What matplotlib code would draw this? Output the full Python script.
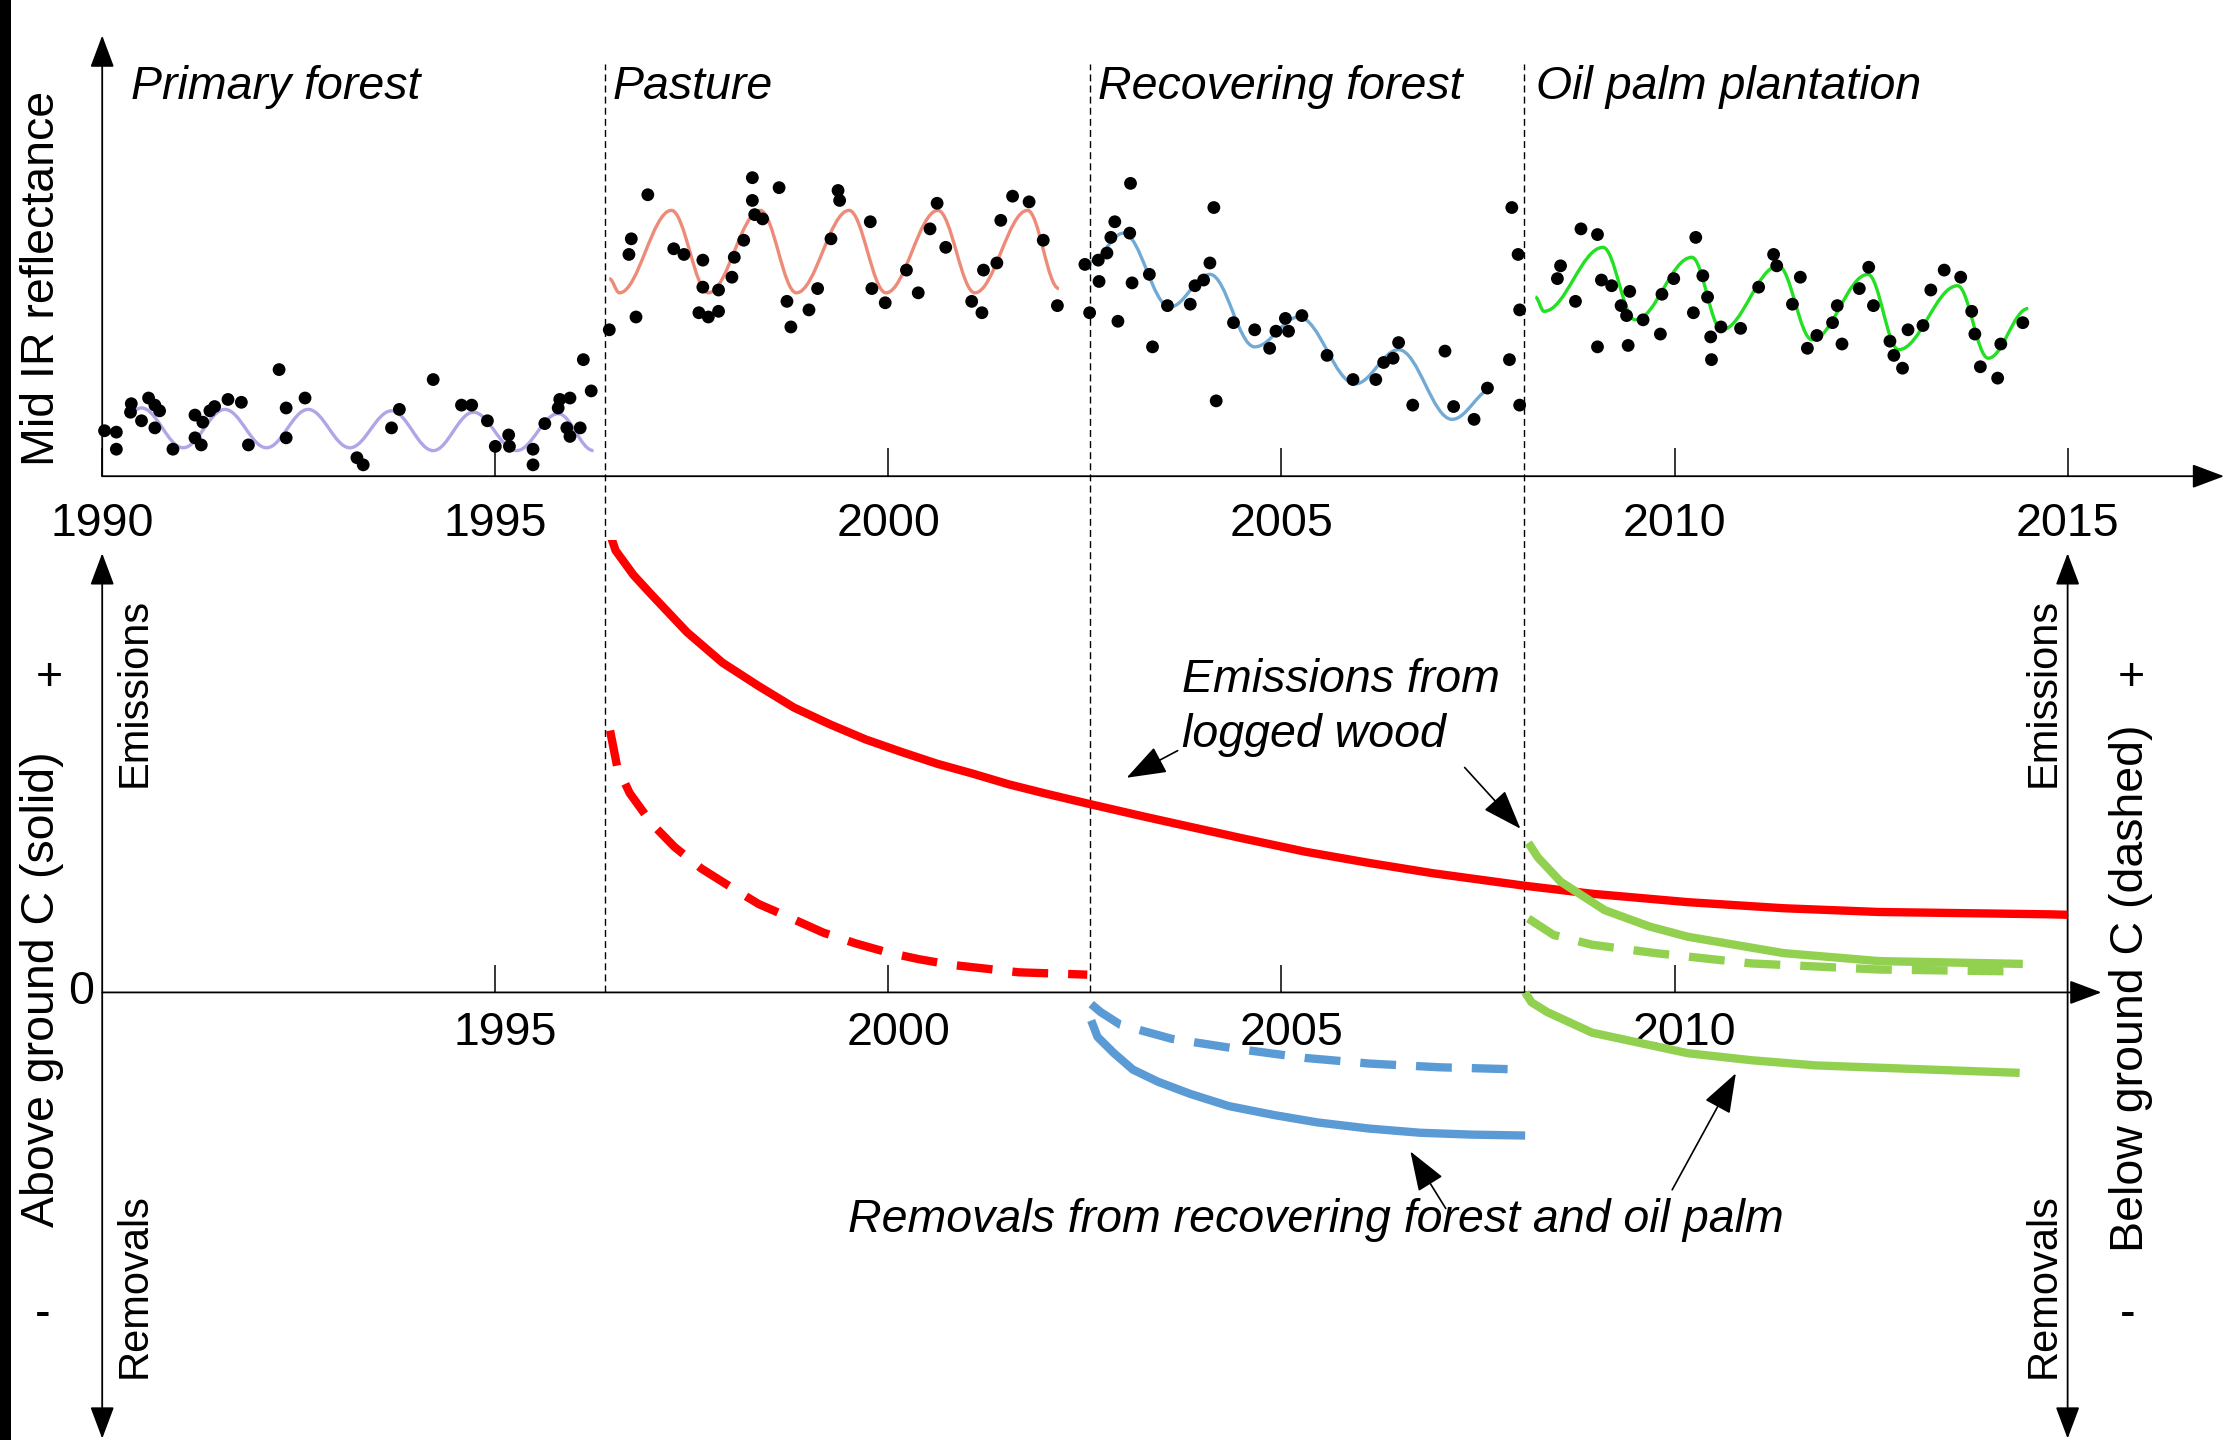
"""Land-use trajectory: Mid IR reflectance (top) and carbon fluxes (bottom)."""
import matplotlib
matplotlib.use('Agg')
import matplotlib.pyplot as plt
from matplotlib.path import Path
from matplotlib.patches import PathPatch, Rectangle
from matplotlib.transforms import ScaledTranslation

plt.rcParams['font.family'] = ['Liberation Sans', 'DejaVu Sans']

# ---------------- data ----------------
stage_names = ['Primary forest', 'Pasture', 'Recovering forest', 'Oil palm plantation']
stage_starts = [1990.0, 1996.40, 2002.56, 2008.09]
top_years = [1990, 1995, 2000, 2005, 2010, 2015]
bottom_years = [1995, 2000, 2005, 2010]

# Mid IR reflectance observations (arbitrary units)
primary_t = [1990.03, 1990.18, 1990.18, 1990.37, 1990.36, 1990.50, 1990.59, 1990.67, 1990.73, 1990.67,
             1990.90, 1991.18, 1991.18, 1991.26, 1991.28, 1991.37, 1991.43, 1991.60, 1991.77, 1991.86,
             1992.25, 1992.34, 1992.34, 1992.58, 1993.24, 1993.32, 1993.68, 1993.78, 1994.21, 1994.57,
             1994.70, 1994.90, 1995.00, 1995.17, 1995.18, 1995.48, 1995.48, 1995.63, 1995.82, 1995.95,
             1995.80, 1995.91, 1995.95, 1996.08, 1996.12, 1996.22]
primary_r = [0.32, 0.31, 0.19, 0.51, 0.45, 0.39, 0.55, 0.50, 0.46, 0.34,
             0.19, 0.43, 0.27, 0.22, 0.38, 0.46, 0.49, 0.54, 0.52, 0.22,
             0.75, 0.48, 0.27, 0.55, 0.13, 0.08, 0.34, 0.47, 0.68, 0.50,
             0.50, 0.39, 0.21, 0.29, 0.21, 0.19, 0.08, 0.37, 0.54, 0.55,
             0.48, 0.34, 0.28, 0.34, 0.82, 0.60]

pasture_t = [1996.45, 1996.70, 1996.73, 1996.79, 1996.94, 1997.27, 1997.40, 1997.64, 1997.64, 1997.59,
             1997.71, 1997.84, 1997.84, 1998.01, 1998.04, 1998.16, 1998.27, 1998.27, 1998.30, 1998.40,
             1998.61, 1998.71, 1998.76, 1998.99, 1999.10, 1999.27, 1999.36, 1999.38, 1999.77, 1999.79,
             1999.96, 2000.23, 2000.38, 2000.53, 2000.62, 2000.73, 2001.06, 2001.19, 2001.21, 2001.38,
             2001.43, 2001.58, 2001.79, 2001.97, 2002.15]
pasture_r = [1.03, 1.56, 1.67, 1.12, 1.98, 1.60, 1.56, 1.52, 1.33, 1.15,
             1.12, 1.16, 1.31, 1.40, 1.54, 1.66, 2.10, 1.94, 1.84, 1.81,
             2.03, 1.23, 1.05, 1.17, 1.32, 1.67, 2.01, 1.94, 1.79, 1.32,
             1.22, 1.45, 1.29, 1.74, 1.92, 1.61, 1.23, 1.15, 1.45, 1.50,
             1.80, 1.97, 1.93, 1.66, 1.20]

recov_t = [2002.50, 2002.67, 2002.68, 2002.56, 2002.78, 2002.83, 2002.88, 2003.08, 2003.07, 2003.10,
           2002.92, 2003.32, 2003.36, 2003.55, 2003.84, 2003.90, 2004.01, 2004.09, 2004.14, 2004.17,
           2004.39, 2004.66, 2004.85, 2004.93, 2005.05, 2005.09, 2005.26, 2005.58, 2005.91, 2006.20,
           2006.30, 2006.42, 2006.49, 2006.67, 2007.08, 2007.19, 2007.45, 2007.62, 2007.90, 2007.93,
           2008.01, 2008.03, 2008.03]
recov_r = [1.49, 1.52, 1.37, 1.15, 1.57, 1.68, 1.79, 2.06, 1.71, 1.36,
           1.09, 1.42, 0.91, 1.20, 1.21, 1.34, 1.38, 1.50, 1.89, 0.53,
           1.08, 1.03, 0.90, 1.02, 1.11, 1.02, 1.13, 0.85, 0.68, 0.68,
           0.80, 0.83, 0.94, 0.50, 0.88, 0.49, 0.40, 0.62, 0.82, 1.89,
           1.56, 1.17, 0.50]

palm_t = [2008.55, 2008.51, 2008.81, 2009.02, 2008.74, 2009.07, 2009.20, 2009.02, 2009.41, 2009.43,
          2009.32, 2009.39, 2009.60, 2009.82, 2009.84, 2009.99, 2010.27, 2010.24, 2010.36, 2010.42,
          2010.46, 2010.47, 2010.59, 2010.84, 2011.07, 2011.26, 2011.30, 2011.60, 2011.50, 2011.69,
          2011.81, 2012.01, 2012.07, 2012.13, 2012.35, 2012.47, 2012.53, 2012.74, 2012.79, 2012.90,
          2012.97, 2013.16, 2013.26, 2013.43, 2013.64, 2013.78, 2013.82, 2013.89, 2014.11, 2014.15,
          2014.43]
palm_r = [1.48, 1.39, 1.74, 1.70, 1.23, 1.38, 1.34, 0.91, 0.92, 1.30,
          1.20, 1.13, 1.10, 1.00, 1.28, 1.39, 1.68, 1.15, 1.41, 1.26,
          0.98, 0.82, 1.05, 1.04, 1.33, 1.56, 1.48, 1.40, 1.21, 0.90,
          0.99, 1.08, 1.20, 0.93, 1.32, 1.47, 1.20, 0.95, 0.85, 0.76,
          1.03, 1.06, 1.31, 1.45, 1.40, 1.16, 1.00, 0.77, 0.69, 0.93,
          1.08]

# seasonal fits: turning points (peaks / troughs) of each fitted curve
primary_fit_t = [1990.30, 1990.50, 1991.03, 1991.56, 1992.09, 1992.62, 1993.15, 1993.68, 1994.21,
                 1994.72, 1995.27, 1995.80, 1996.25]
primary_fit_r = [0.43, 0.48, 0.20, 0.47, 0.20, 0.47, 0.20, 0.46, 0.18, 0.45, 0.18, 0.44, 0.18]
pasture_fit_t = [1996.45, 1996.58, 1997.24, 1997.71, 1998.37, 1998.83, 1999.50, 1999.97, 2000.63,
                 2001.10, 2001.77, 2002.17]
pasture_fit_r = [1.39, 1.29, 1.87, 1.29, 1.87, 1.29, 1.87, 1.29, 1.87, 1.29, 1.87, 1.32]
recov_fit_t = [2002.57, 2002.99, 2003.58, 2004.09, 2004.66, 2005.22, 2005.94, 2006.49, 2007.17, 2007.70]
recov_fit_r = [1.51, 1.71, 1.19, 1.42, 0.91, 1.12, 0.65, 0.89, 0.40, 0.62]
palm_fit_t = [2008.23, 2008.34, 2009.09, 2009.50, 2010.22, 2010.60, 2011.32, 2011.75, 2012.46,
              2012.85, 2013.60, 2013.99, 2014.50]
palm_fit_r = [1.26, 1.16, 1.61, 1.10, 1.54, 1.03, 1.48, 0.96, 1.42, 0.89, 1.34, 0.83, 1.18]

# carbon fluxes (relative units), + emissions / - removals
red_solid_t = [1996.42, 1996.53, 1996.76, 1996.99, 1997.44, 1997.89, 1998.35, 1998.80, 1999.26, 1999.71,
               2000.17, 2000.62, 2001.07, 2001.53, 2001.98, 2002.53, 2003.20, 2003.68, 2004.49, 2005.30,
               2006.11, 2006.92, 2008.10, 2008.95, 2010.17, 2011.39, 2012.60, 2014.78, 2015.00]
red_solid_c = [1.00, 0.945, 0.892, 0.850, 0.770, 0.705, 0.655, 0.609, 0.573, 0.541,
               0.514, 0.489, 0.468, 0.445, 0.426, 0.404, 0.378, 0.360, 0.330, 0.301,
               0.277, 0.255, 0.228, 0.211, 0.193, 0.180, 0.172, 0.167, 0.166]
red_dash_t = [1996.46, 1996.55, 1996.71, 1996.99, 1997.28, 1997.62, 1997.98, 1998.35, 1998.76, 1999.17,
              1999.58, 1999.98, 2000.39, 2000.80, 2001.66, 2002.53]
red_dash_c = [0.560, 0.483, 0.426, 0.361, 0.311, 0.265, 0.227, 0.189, 0.159, 0.128,
              0.105, 0.086, 0.071, 0.059, 0.043, 0.038]
blue_solid_t = [2002.58, 2002.66, 2002.87, 2003.11, 2003.43, 2003.84, 2004.33, 2004.90, 2005.46, 2006.11,
                2006.76, 2007.41, 2008.10]
blue_solid_c = [-0.060, -0.095, -0.130, -0.165, -0.191, -0.217, -0.243, -0.262, -0.278, -0.291,
                -0.300, -0.304, -0.306]
blue_dash_t = [2002.58, 2002.70, 2002.95, 2003.60, 2004.45, 2005.30, 2006.11, 2007.00, 2008.10]
blue_dash_c = [-0.025, -0.042, -0.069, -0.099, -0.121, -0.140, -0.152, -0.160, -0.165]
green_solid_t = [2008.14, 2008.26, 2008.55, 2009.11, 2009.68, 2010.17, 2011.39, 2012.60, 2014.43]
green_solid_c = [0.320, 0.289, 0.237, 0.176, 0.141, 0.119, 0.084, 0.067, 0.061]
green_dash_t = [2008.14, 2008.46, 2008.95, 2009.76, 2010.98, 2012.60, 2014.31]
green_dash_c = [0.158, 0.123, 0.102, 0.084, 0.062, 0.049, 0.045]
green_rem_t = [2008.10, 2008.18, 2008.38, 2008.95, 2010.17, 2010.98, 2011.79, 2014.39]
green_rem_c = [0.0, -0.021, -0.042, -0.086, -0.130, -0.145, -0.156, -0.172]

# ---------------- figure ----------------
FS = 33.5
BLACK = 'black'

fig = plt.figure(figsize=(22.28, 14.40), dpi=100)
fig.patch.set_facecolor('white')
fig.add_artist(Rectangle((0, 0), 11 / 2228, 1, transform=fig.transFigure,
                         facecolor='black', edgecolor='none'))

split = 633 / 1013
ax_bot = fig.add_axes([0, 0, 1, split])
ax_top = fig.add_axes([0, split, 1, 1 - split])
for ax in (ax_top, ax_bot):
    ax.set_xlim(1988.70, 2017.04)
    ax.patch.set_visible(False)
    for s in ax.spines.values():
        s.set_visible(False)
    ax.spines['bottom'].set_position(('data', 0))
    ax.tick_params(axis='y', left=False, labelleft=False)
    ax.tick_params(axis='x', direction='in', width=1.1, labelsize=FS, top=False)
ax_top.set_ylim(-0.45, 3.35)
ax_bot.set_ylim(-0.957, 0.967)

ax_top.set_xticks(top_years)
ax_top.set_xticklabels([str(y) for y in top_years])
ax_top.tick_params(axis='x', length=20, pad=18.4)
ax_bot.set_xticks(bottom_years)
ax_bot.set_xticklabels([str(y) for y in bottom_years])
ax_bot.tick_params(axis='x', length=19.5, pad=13.3)
shift = ScaledTranslation(0.10, 0, fig.dpi_scale_trans)
for lab in ax_bot.get_xticklabels():
    lab.set_transform(lab.get_transform() + shift)


def axis_arrow(ax, start, end, style='-|>'):
    ax.annotate('', xy=end, xytext=start,
                arrowprops=dict(arrowstyle=f'{style},head_length=2.0,head_width=0.75',
                                mutation_scale=10, lw=1.3, color=BLACK,
                                shrinkA=0, shrinkB=0))


# axes drawn as arrows
axis_arrow(ax_top, (1990, 0), (1990, 3.10))
axis_arrow(ax_top, (1990, 0), (2016.99, 0))
axis_arrow(ax_bot, (1990, 0), (2015.43, 0))
axis_arrow(ax_bot, (1990, -0.954), (1990, 0.939), '<|-|>')
axis_arrow(ax_bot, (2015, -0.954), (2015, 0.939), '<|-|>')

# land-use transitions
for t0 in stage_starts[1:]:
    ax_bot.plot([t0, t0], [0, 1.985], color=BLACK, lw=1.0, dashes=(5, 3),
                clip_on=False, zorder=1)

label_x = [1990.36, 1996.49, 2002.67, 2008.24]
for name, lx in zip(stage_names, label_x):
    ax_top.text(lx, 2.74, name, style='italic', fontsize=FS, ha='left', va='center')


def turning_point_path(ts, vs, k=0.3634):
    verts = [(ts[0], vs[0])]
    codes = [Path.MOVETO]
    for t0, v0, t1, v1 in zip(ts[:-1], vs[:-1], ts[1:], vs[1:]):
        dt = t1 - t0
        verts += [(t0 + k * dt, v0), (t1 - k * dt, v1), (t1, v1)]
        codes += [Path.CURVE4] * 3
    return Path(verts, codes)


fits = [(primary_fit_t, primary_fit_r, '#aea6e6'),
        (pasture_fit_t, pasture_fit_r, '#ee8a78'),
        (recov_fit_t, recov_fit_r, '#72aad6'),
        (palm_fit_t, palm_fit_r, '#22e022')]
for ft, fr, col in fits:
    ax_top.add_patch(PathPatch(turning_point_path(ft, fr), facecolor='none',
                               edgecolor=col, lw=2.4, zorder=2))

for st, sr in [(primary_t, primary_r), (pasture_t, pasture_r),
               (recov_t, recov_r), (palm_t, palm_r)]:
    ax_top.scatter(st, sr, s=85, color=BLACK, edgecolors='none', zorder=3)

ax_top.text(1989.24, 1.39, 'Mid IR reflectance', rotation=90, fontsize=FS,
            ha='center', va='center')

# carbon flux curves
RED, BLUE, GREEN = '#ff0000', '#5b9bd5', '#92d050'
LW = 6
dash = (4.3, 2.4)
solid_kw = dict(lw=LW, solid_capstyle='butt', solid_joinstyle='round', zorder=3)
dash_kw = dict(lw=LW, dashes=dash, dash_capstyle='butt', dash_joinstyle='round', zorder=3)
ax_bot.plot(red_solid_t, red_solid_c, color=RED, **solid_kw)
ax_bot.plot(red_dash_t, red_dash_c, color=RED, **dash_kw)
ax_bot.plot(blue_solid_t, blue_solid_c, color=BLUE, **solid_kw)
ax_bot.plot(blue_dash_t, blue_dash_c, color=BLUE, **dash_kw)
ax_bot.plot(green_solid_t, green_solid_c, color=GREEN, **solid_kw)
ax_bot.plot(green_dash_t, green_dash_c, color=GREEN, **dash_kw)
ax_bot.plot(green_rem_t, green_rem_c, color=GREEN, **solid_kw)

# side labels
ax_bot.text(1989.24, 0.006, 'Above ground C (solid)', rotation=90, fontsize=FS,
            ha='center', va='center')
ax_bot.text(2015.81, 0.01, 'Below ground C (dashed)', rotation=90, fontsize=FS,
            ha='center', va='center')
for x in (1990.41, 2014.69):
    ax_bot.text(x, 0.641, 'Emissions', rotation=90, fontsize=30, ha='center', va='center')
    ax_bot.text(x, -0.626, 'Removals', rotation=90, fontsize=30, ha='center', va='center')
ax_bot.text(1989.33, 0.672, '+', fontsize=FS, ha='center', va='center')
ax_bot.text(2015.81, 0.672, '+', fontsize=FS, ha='center', va='center')
ax_bot.text(1989.24, -0.690, '-', fontsize=FS, ha='center', va='center')
ax_bot.text(2015.76, -0.690, '-', fontsize=FS, ha='center', va='center')
ax_bot.text(1989.73, 0.0, '0', fontsize=FS, ha='center', va='center')

# callouts
ax_bot.text(2003.74, 0.669, 'Emissions from', style='italic', fontsize=FS, ha='left', va='center')
ax_bot.text(2003.74, 0.550, 'logged wood', style='italic', fontsize=FS, ha='left', va='center')
ax_bot.text(2005.44, -0.486, 'Removals from recovering forest and oil palm', style='italic',
            fontsize=FS, ha='center', va='center')
callouts = [((2003.68, 0.517), (2003.03, 0.459)),
            ((2007.33, 0.481), (2008.04, 0.350)),
            ((2007.09, -0.462), (2006.64, -0.340)),
            ((2009.97, -0.422), (2010.78, -0.173))]
for tail, tip in callouts:
    ax_bot.annotate('', xy=tip, xytext=tail,
                    arrowprops=dict(arrowstyle='-|>,head_length=2.5,head_width=0.9',
                                    mutation_scale=10, lw=1.2, color=BLACK,
                                    shrinkA=0, shrinkB=0))

fig.savefig('out.png', dpi=100)
plt.close(fig)
